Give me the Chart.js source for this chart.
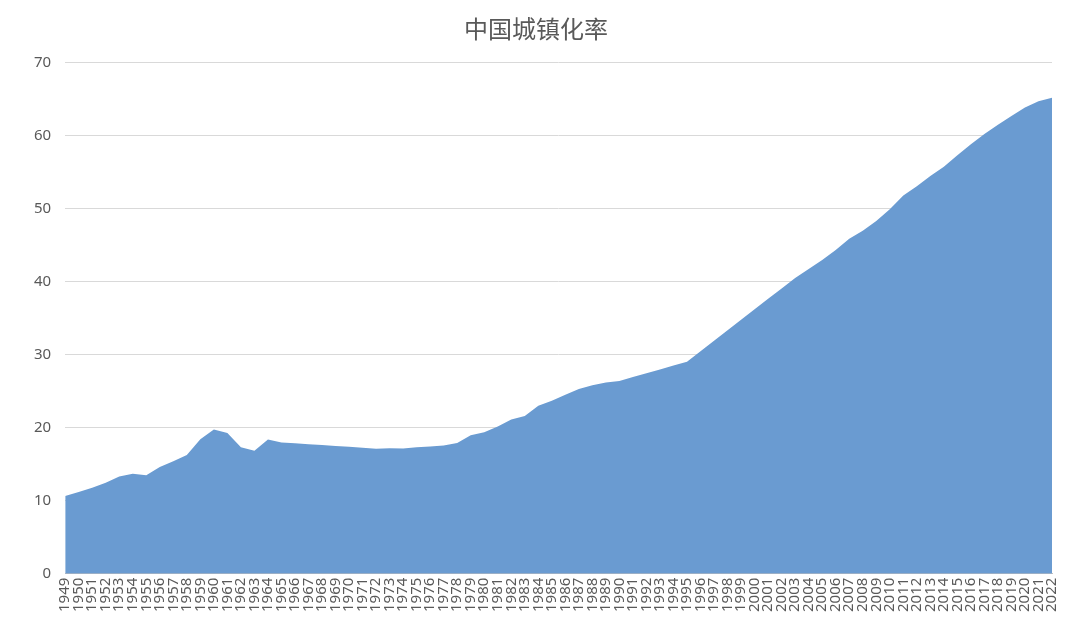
<!DOCTYPE html>
<html>
<head>
<meta charset="utf-8">
<script src="https://cdn.jsdelivr.net/npm/chart.js@4/dist/chart.umd.min.js"></script>
<style>
  html, body { margin: 0; padding: 0; background: #fff; }
  #wrap { width: 1080px; height: 636px; }
</style>
</head>
<body>
<div id="wrap"><canvas id="c"></canvas></div>
<script>
const years = [];
for (let y = 1949; y <= 2022; y++) years.push(String(y));

const urbanRate = [
  10.64, 11.18, 11.78, 12.46, 13.31, 13.69, 13.48, 14.62, 15.39, 16.25,
  18.41, 19.75, 19.29, 17.33, 16.84, 18.37, 17.98, 17.86, 17.74, 17.62,
  17.50, 17.38, 17.26, 17.13, 17.20, 17.16, 17.34, 17.44, 17.55, 17.92,
  18.96, 19.39, 20.16, 21.13, 21.62, 23.01, 23.71, 24.52, 25.32, 25.81,
  26.21, 26.41, 26.94, 27.46, 27.99, 28.51, 29.04, 30.48, 31.91, 33.35,
  34.78, 36.22, 37.66, 39.09, 40.53, 41.76, 42.99, 44.34, 45.89, 46.99,
  48.34, 49.95, 51.83, 53.10, 54.49, 55.75, 57.33, 58.84, 60.24, 61.50,
  62.71, 63.89, 64.72, 65.22
];

const chartTitle = '中国城镇化率';

new Chart(document.getElementById('c'), {
  type: 'line',
  data: {
    labels: years,
    datasets: [{
      data: urbanRate,
      fill: 'origin',
      backgroundColor: '#6A9BD1',
      borderWidth: 0,
      pointRadius: 0,
      tension: 0
    }]
  },
  options: {
    responsive: true,
    maintainAspectRatio: false,
    animation: false,
    layout: { padding: { left: 20, right: 28, top: 12, bottom: 22 } },
    plugins: {
      legend: { display: false },
      tooltip: { enabled: false },
      title: {
        display: true,
        text: chartTitle,
        color: '#595959',
        font: { family: 'Noto Sans CJK SC', size: 24, weight: 'normal' },
        padding: { top: 2, bottom: 20 }
      }
    },
    scales: {
      x: {
        offset: false,
        grid: { display: false, drawTicks: true, tickLength: 2 },
        border: { color: '#BFBFBF' },
        ticks: {
          autoSkip: false,
          maxRotation: 90,
          minRotation: 90,
          padding: 2,
          color: '#595959',
          font: { family: 'Noto Sans', size: 15 }
        }
      },
      y: {
        min: 0,
        max: 70,
        grid: { color: '#D9D9D9', drawTicks: false },
        border: { display: false },
        ticks: {
          stepSize: 10,
          padding: 14,
          color: '#595959',
          font: { family: 'Noto Sans', size: 15 }
        }
      }
    }
  }
});
</script>
</body>
</html>
